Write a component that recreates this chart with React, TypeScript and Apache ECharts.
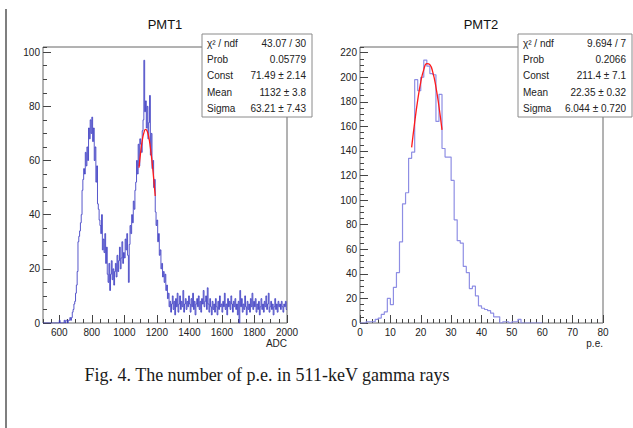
import { useEffect, useRef } from "react";
import * as echarts from "echarts";

// ---------- DATA ----------
const pmt1Start = 500;
const pmt1BinWidth = 5;
// counts per 5-ADC bin, 500 .. 1995
const pmt1Counts = [
  0, 0, 0, 0, 0, 0, 0, 0, 0, 0,
  0, 0, 0, 0, 0, 0, 0, 0, 0, 0,
  1, 0, 0, 0, 0, 0, 1, 0, 1, 1,
  0, 1, 1, 2, 1, 2, 4, 5, 7, 8,
  11, 14, 19, 30, 32, 34, 37, 40, 49, 53,
  57, 55, 63, 58, 65, 60, 72, 68, 75, 70,
  76, 67, 72, 60, 65, 52, 58, 44, 42, 38,
  36, 33, 40, 27, 31, 26, 33, 22, 28, 18,
  15, 22, 12, 18, 23, 16, 20, 14, 19, 22,
  17, 25, 19, 23, 28, 20, 24, 30, 22, 26,
  24, 31, 27, 33, 25, 15, 29, 36, 33, 40,
  37, 45, 42, 49, 52, 60, 55, 66, 58, 68,
  66, 63, 71, 75, 97, 78, 82, 72, 80, 68,
  74, 84, 62, 70, 57, 60, 50, 53, 41, 36,
  38, 30, 33, 25, 27, 20, 22, 17, 19, 15,
  18, 12, 14, 9, 11, 6, 8, 4, 7, 10,
  5, 8, 3, 9, 6, 11, 4, 7, 10, 5,
  8, 6, 12, 4, 7, 9, 5, 8, 6, 10,
  7, 4, 9, 6, 11, 5, 8, 3, 7, 9,
  6, 10, 5, 8, 4, 9, 7, 12, 6, 8,
  10, 5, 13, 7, 4, 9, 6, 3, 8, 5,
  7, 4, 9, 6, 3, 8, 5, 10, 6, 7,
  4, 8, 6, 11, 5, 7, 3, 9, 6, 8,
  5, 10, 7, 4, 8, 6, 9, 5, 7, 3,
  8, 0, 12, 6, 9, 4, 7, 5, 10, 6,
  3, 8, 5, 7, 4, 9, 6, 11, 5, 8,
  6, 9, 4, 7, 5, 8, 3, 6, 9, 5,
  7, 4, 8, 6, 10, 5, 7, 11, 4, 6,
  8, 5, 7, 3, 6, 9, 5, 7, 4, 8,
  6, 7, 5, 8, 6, 4, 7, 6, 8, 5,
];

const pmt2Start = 0;
const pmt2BinWidth = 1;
// counts per 1 p.e. bin, 0 .. 59
const pmt2Counts = [
  0, 0, 1, 1, 1, 3, 4, 7, 9, 20,
  15, 29, 41, 66, 97, 106, 134, 139, 198, 189,
  200, 214, 209, 203, 202, 164, 186, 142, 135, 135,
  116, 84, 67, 65, 46, 41, 28, 30, 22, 14,
  12, 11, 10, 8, 5, 5, 0, 1, 1, 0,
  1, 1, 3, 0, 0, 0, 0, 0, 0, 0,
];

// fit curves
const fit1X = [1090, 1100, 1110, 1120, 1130, 1140, 1150, 1160, 1170, 1180, 1190];
const fit1Y = [57.3, 62.9, 67.3, 70.2, 71.5, 70.9, 68.7, 64.8, 59.7, 53.6, 46.9];
const fit2X = [17, 18, 19, 20, 21, 22, 23, 24, 25, 26, 27];
const fit2Y = [142.9, 163.2, 181.3, 196.0, 206.2, 211.0, 210.2, 203.7, 192.0, 176.2, 157.2];

// tick labels
const pmt1XLabels = [600, 800, 1000, 1200, 1400, 1600, 1800, 2000];
const pmt1YLabels = [0, 20, 40, 60, 80, 100];
const pmt2XLabels = [0, 10, 20, 30, 40, 50, 60, 70, 80];
const pmt2YLabels = [0, 20, 40, 60, 80, 100, 120, 140, 160, 180, 200, 220];

const stats1Names = ["χ² / ndf", "Prob", "Const", "Mean", "Sigma"];
const stats1Values = ["43.07 / 30", "0.05779", "71.49 ± 2.14", "1132 ± 3.8", "63.21 ± 7.43"];
const stats2Names = ["χ² / ndf", "Prob", "Const", "Mean", "Sigma"];
const stats2Values = ["9.694 / 7", "0.2066", "211.4 ± 7.1", "22.35 ± 0.32", "6.044 ± 0.720"];

const caption = "Fig. 4. The number of p.e. in 511-keV gamma rays";

// ---------- HELPERS ----------
const FONT = '"Liberation Sans", Arial, sans-serif';

function histData(start: number, width: number, counts: number[]) {
  const d: number[][] = counts.map((v, i) => [start + i * width, v]);
  d.push([start + counts.length * width, counts[counts.length - 1]]);
  return d;
}

function statsBox(x: number, y: number, w: number, h: number, names: string[], values: string[]) {
  const children: any[] = [
    {
      type: "rect",
      shape: { x, y, width: w, height: h },
      style: { fill: "#ffffff", stroke: "#8a8a8a", lineWidth: 1 },
    },
  ];
  names.forEach((n, i) => {
    const ty = y + 9 + i * 16.4;
    children.push({
      type: "text",
      x: x + 5,
      y: ty,
      style: { text: n, font: `10px ${FONT}`, fill: "#222", textAlign: "left", textVerticalAlign: "middle" },
    });
    children.push({
      type: "text",
      x: x + w - 6,
      y: ty,
      style: { text: values[i], font: `10px ${FONT}`, fill: "#222", textAlign: "right", textVerticalAlign: "middle" },
    });
  });
  return { type: "group", z: 100, children };
}

const labelStyle = { fontSize: 10, color: "#222", fontFamily: FONT };

export default function App() {
  const ref = useRef<HTMLDivElement>(null);
  useEffect(() => {
    if (!ref.current) return;
    const chart = echarts.init(ref.current, undefined, { renderer: "svg" });
    const grids = [
      { left: 43, top: 47, width: 244, height: 276, show: true, borderColor: "#666", borderWidth: 1, backgroundColor: "transparent" },
      { left: 360, top: 47, width: 243, height: 276, show: true, borderColor: "#666", borderWidth: 1, backgroundColor: "transparent" },
    ];
    const tickLine = { color: "#444", width: 1 };
    const option: any = {
      animation: false,
      backgroundColor: "#ffffff",
      grid: grids,
      xAxis: [
        // PMT1 major
        {
          type: "value", gridIndex: 0, min: 500, max: 2000, position: "bottom",
          axisLine: { show: false },
          axisTick: { inside: true, length: 8, lineStyle: tickLine, customValues: pmt1XLabels },
          axisLabel: { ...labelStyle, margin: 4, customValues: pmt1XLabels, formatter: (v: number) => String(v) },
          splitLine: { show: false },
        },
        // PMT1 minor
        {
          type: "value", gridIndex: 0, min: 500, max: 2000, interval: 50, position: "bottom",
          axisLine: { show: false },
          axisTick: { inside: true, length: 4, lineStyle: tickLine },
          axisLabel: { show: false },
          splitLine: { show: false },
        },
        // PMT2 major
        {
          type: "value", gridIndex: 1, min: 0, max: 80, interval: 10, position: "bottom",
          axisLine: { show: false },
          axisTick: { inside: true, length: 8, lineStyle: tickLine },
          axisLabel: { ...labelStyle, margin: 4, formatter: (v: number) => (pmt2XLabels.includes(v) ? String(v) : "") },
          splitLine: { show: false },
        },
        // PMT2 minor
        {
          type: "value", gridIndex: 1, min: 0, max: 80, interval: 2, position: "bottom",
          axisLine: { show: false },
          axisTick: { inside: true, length: 4, lineStyle: tickLine },
          axisLabel: { show: false },
          splitLine: { show: false },
        },
      ],
      yAxis: [
        {
          type: "value", gridIndex: 0, min: 0, max: 101.9, interval: 20, position: "left",
          axisLine: { show: false },
          axisTick: { inside: true, length: 8, lineStyle: tickLine },
          axisLabel: { ...labelStyle, margin: 3, showMaxLabel: false, formatter: (v: number) => (pmt1YLabels.includes(v) ? String(v) : "") },
          splitLine: { show: false },
        },
        {
          type: "value", gridIndex: 0, min: 0, max: 101.9, interval: 5, position: "left",
          axisLine: { show: false },
          axisTick: { inside: true, length: 4, lineStyle: tickLine },
          axisLabel: { show: false },
          splitLine: { show: false },
        },
        {
          type: "value", gridIndex: 1, min: 0, max: 224.6, interval: 20, position: "left",
          axisLine: { show: false },
          axisTick: { inside: true, length: 8, lineStyle: tickLine },
          axisLabel: { ...labelStyle, margin: 3, showMaxLabel: false, formatter: (v: number) => (pmt2YLabels.includes(v) ? String(v) : "") },
          splitLine: { show: false },
        },
        {
          type: "value", gridIndex: 1, min: 0, max: 224.6, interval: 5, position: "left",
          axisLine: { show: false },
          axisTick: { inside: true, length: 4, lineStyle: tickLine },
          axisLabel: { show: false },
          splitLine: { show: false },
        },
      ],
      series: [
        {
          type: "line", xAxisIndex: 0, yAxisIndex: 0, step: "end", symbol: "none",
          data: histData(pmt1Start, pmt1BinWidth, pmt1Counts),
          lineStyle: { color: "#3a3ac2", width: 1, opacity: 0.85 },
          silent: true,
        },
        {
          type: "line", xAxisIndex: 0, yAxisIndex: 0, symbol: "none", smooth: true,
          data: fit1X.map((x, i) => [x, fit1Y[i]]),
          lineStyle: { color: "#ff1a1a", width: 1.3 },
          silent: true, z: 5,
        },
        {
          type: "line", xAxisIndex: 2, yAxisIndex: 2, step: "end", symbol: "none",
          data: histData(pmt2Start, pmt2BinWidth, pmt2Counts),
          lineStyle: { color: "#8e8ee4", width: 1.2 },
          silent: true,
        },
        {
          type: "line", xAxisIndex: 2, yAxisIndex: 2, symbol: "none", smooth: true,
          data: fit2X.map((x, i) => [x, fit2Y[i]]),
          lineStyle: { color: "#ff1a1a", width: 1.3 },
          silent: true, z: 5,
        },
      ],
      graphic: [
        { type: "line", shape: { x1: 6, y1: 9, x2: 6, y2: 428 }, style: { stroke: "#555", lineWidth: 1.5 } },
        { type: "text", x: 165, y: 24, style: { text: "PMT1", font: `13px ${FONT}`, fill: "#111", textAlign: "center", textVerticalAlign: "middle" } },
        { type: "text", x: 481, y: 24, style: { text: "PMT2", font: `13px ${FONT}`, fill: "#111", textAlign: "center", textVerticalAlign: "middle" } },
        { type: "text", x: 287, y: 343, style: { text: "ADC", font: `10px ${FONT}`, fill: "#222", textAlign: "right", textVerticalAlign: "middle" } },
        { type: "text", x: 603, y: 343, style: { text: "p.e.", font: `10px ${FONT}`, fill: "#222", textAlign: "right", textVerticalAlign: "middle" } },
        statsBox(202, 34, 110, 83, stats1Names, stats1Values),
        statsBox(518, 34, 114, 83, stats2Names, stats2Values),
        { type: "text", x: 267, y: 375, style: { text: caption, font: '18px "Liberation Serif", "Times New Roman", serif', fill: "#1a1a1a", textAlign: "center", textVerticalAlign: "middle" } },
      ],
    };
    chart.setOption(option);
    return () => chart.dispose();
  }, []);
  return <div ref={ref} style={{ position: "absolute", left: 0, top: 0, width: 633, height: 428 }} />;
}
